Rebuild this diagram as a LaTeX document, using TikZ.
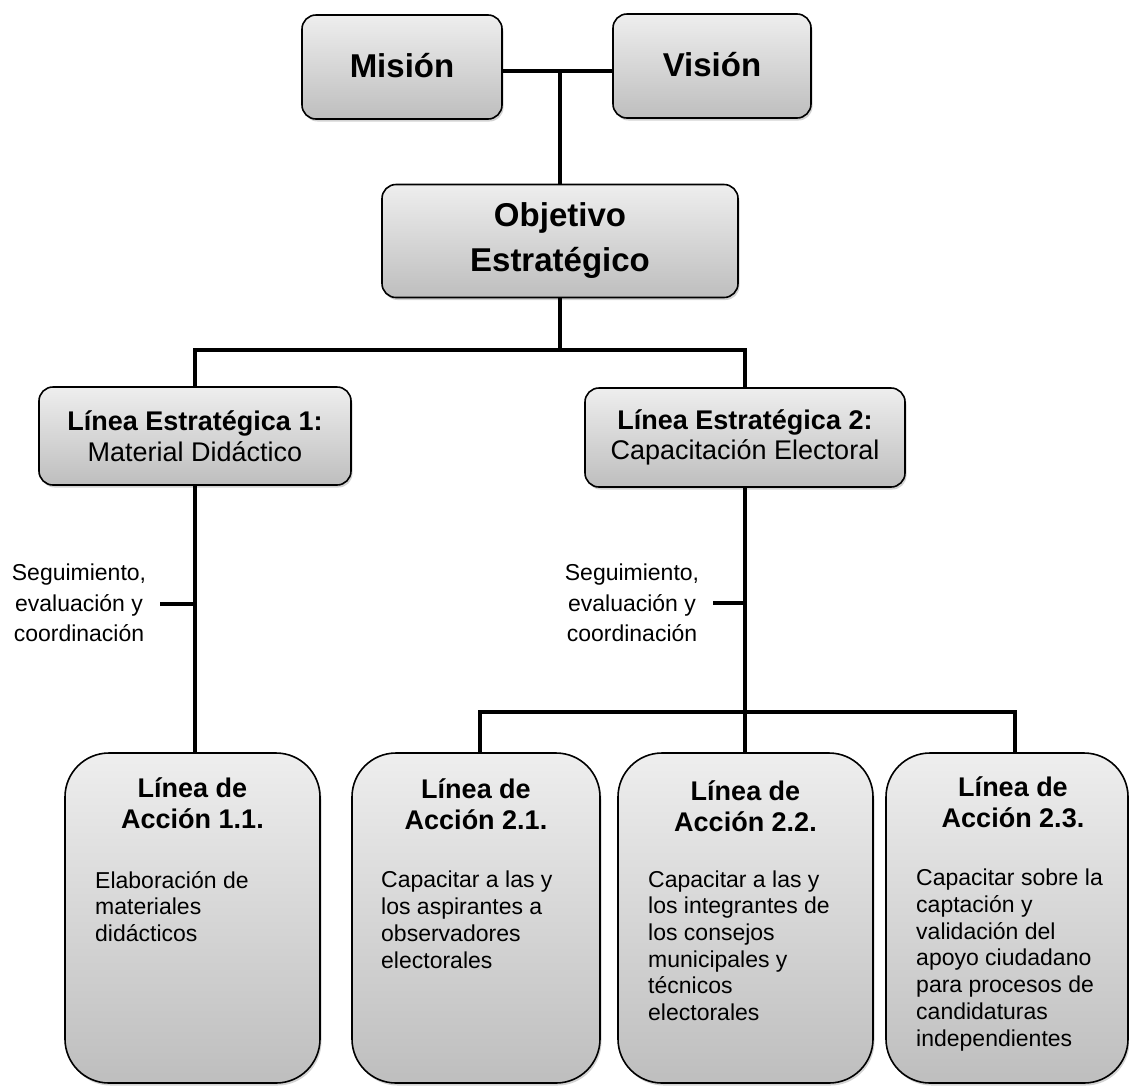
\documentclass[tikz,border=0pt]{standalone}
\usepackage{fontspec}
\setmainfont{Liberation Sans}
\usetikzlibrary{shadows}
\definecolor{boxtop}{HTML}{EEEEEE}
\definecolor{boxbot}{HTML}{BEBEBE}
\begin{document}
\begin{tikzpicture}[x=1pt,y=-1pt,
  box/.style={draw=black, line width=1.6pt, rounded corners=14pt,
    top color=boxtop, bottom color=boxbot,
    drop shadow={shadow xshift=1.5pt, shadow yshift=-2.5pt, opacity=0.35},
    align=center, inner sep=0pt},
  abox/.style={box, rounded corners=44pt},
  bigtxt/.style={font=\bfseries\fontsize{33}{44}\selectfont},
  midtxt/.style={font=\fontsize{27}{30.5}\selectfont},
  atitle/.style={align=center, inner sep=0pt, font=\bfseries\fontsize{27}{31}\selectfont},
  abody/.style={align=left, inner sep=0pt, font=\fontsize{23}{26.7}\selectfont},
  lbl/.style={align=center, inner sep=0pt, font=\fontsize{23}{30.5}\selectfont},
  conn/.style={line width=4pt}]
\clip (0,0) rectangle (1129,1085);
\useasboundingbox (0,0) rectangle (1129,1085);

% top level
\node[box, bigtxt, minimum width=200pt, minimum height=104pt, text depth=3pt] (mision) at (402,67) {Misión};
\node[box, bigtxt, minimum width=198pt, minimum height=104pt, text depth=3pt] (vision) at (712,66) {Visión};
\node[box, bigtxt, minimum width=356pt, minimum height=113pt] (obj) at (560,241) {Objetivo\\[1pt]Estratégico};

% strategic lines
\node[box, midtxt, minimum width=312pt, minimum height=98pt] (le1) at (195,436) {\textbf{Línea Estratégica 1:}\\Material Didáctico};
\node[box, midtxt, minimum width=320pt, minimum height=99pt] (le2) at (745,437.5) {\textbf{Línea Estratégica 2:}\\Capacitación Electoral};

% action lines
\node[abox, minimum width=255pt, minimum height=330pt] (la11) at (192.5,918) {};
\node[abox, minimum width=248pt, minimum height=330pt] (la21) at (476,918) {};
\node[abox, minimum width=255pt, minimum height=330pt] (la22) at (745.5,918) {};
\node[abox, minimum width=242pt, minimum height=330pt] (la23) at (1007,918) {};

% titles (anchor base = baseline of last line)
\node[atitle, anchor=base] (t11) at (192.5,828) {Línea de\\Acción 1.1.};
\node[atitle, anchor=base] (t21) at (476,829) {Línea de\\Acción 2.1.};
\node[atitle, anchor=base] (t22) at (745.5,831) {Línea de\\Acción 2.2.};
\node[atitle, anchor=base] (t23) at (1013,827) {Línea de\\Acción 2.3.};

% bodies (anchor base west = baseline of last line)
\node[abody, anchor=base west] (b11) at (95,941.5) {Elaboración de\\materiales\\didácticos};
\node[abody, anchor=base west] (b21) at (381,968) {Capacitar a las y\\los aspirantes a\\observadores\\electorales};
\node[abody, anchor=base west] (b22) at (648,1020.5) {Capacitar a las y\\los integrantes de\\los consejos\\municipales y\\técnicos\\electorales};
\node[abody, anchor=base west] (b23) at (916,1046) {Capacitar sobre la\\captación y\\validación del\\apoyo ciudadano\\para procesos de\\candidaturas\\independientes};

% side labels
\node[lbl] (s1) at (79,603) {Seguimiento,\\evaluación y\\coordinación};
\node[lbl] (s2) at (632,603) {Seguimiento,\\evaluación y\\coordinación};

% connectors
\coordinate (mv) at (560,71);
\coordinate (c2) at (745,350);
\coordinate (d21) at (480,712);
\coordinate (d22) at (745,712);
\coordinate (d23) at (1015,712);
\coordinate (k1) at (160,604);
\coordinate (k2) at (713,603);

\draw[conn] (mision.east |- mv) -- (vision.west |- mv);
\draw[conn] (mv) -- (obj.north);
\draw[conn] (obj.south) -- (obj.south |- c2);
\draw[conn] (le1.north) |- (c2) -- (le2.north);
\draw[conn] (le1.south) -- (le1.south |- la11.north);
\draw[conn] (k1) -- (k1 -| le1.south);
\draw[conn] (le2.south) -- (d22 |- la22.north);
\draw[conn] (k2) -- (k2 -| d22);
\draw[conn] (d21 |- la21.north) -- (d21) -- (d23) -- (d23 |- la23.north);
\end{tikzpicture}
\end{document}
